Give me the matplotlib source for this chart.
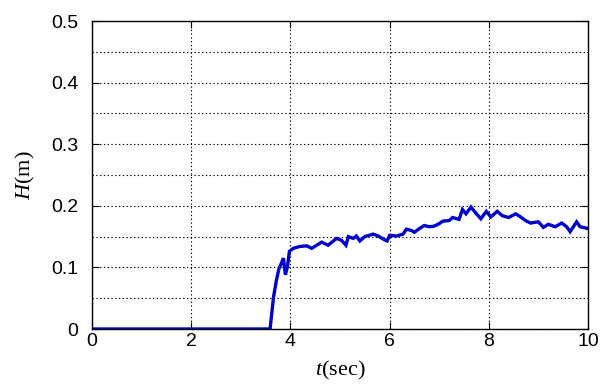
import matplotlib
matplotlib.use("Agg")
import matplotlib.pyplot as plt
import numpy as np
from matplotlib.ticker import MultipleLocator

plt.rcParams["mathtext.fontset"] = "custom"
plt.rcParams["mathtext.it"] = "Liberation Serif:italic"
plt.rcParams["mathtext.rm"] = "Liberation Serif"

# wave height record
t = [0.0, 3.59, 3.66, 3.72, 3.77, 3.82, 3.86, 3.90, 3.94, 3.98, 4.06, 4.19,
     4.33, 4.43, 4.53, 4.63, 4.76, 4.93, 5.03, 5.12, 5.17, 5.27, 5.33, 5.40,
     5.50, 5.67, 5.77, 5.87, 5.95, 6.00, 6.14, 6.27, 6.34, 6.44, 6.50, 6.60,
     6.70, 6.80, 6.90, 7.00, 7.07, 7.20, 7.27, 7.40, 7.47, 7.54, 7.64, 7.74,
     7.84, 7.95, 8.04, 8.17, 8.27, 8.40, 8.54, 8.64, 8.74, 8.84, 9.00, 9.10,
     9.20, 9.34, 9.47, 9.57, 9.64, 9.77, 9.84, 10.0]
H = [0.0, 0.0, 0.052, 0.080, 0.098, 0.107, 0.115, 0.088, 0.101, 0.126, 0.131, 0.134,
     0.135, 0.131, 0.136, 0.141, 0.136, 0.147, 0.144, 0.136, 0.150, 0.147, 0.151, 0.143,
     0.150, 0.154, 0.151, 0.146, 0.143, 0.152, 0.151, 0.154, 0.162, 0.160, 0.157, 0.163,
     0.168, 0.166, 0.167, 0.171, 0.175, 0.176, 0.181, 0.178, 0.194, 0.187, 0.198, 0.188,
     0.179, 0.191, 0.182, 0.191, 0.184, 0.181, 0.187, 0.182, 0.176, 0.172, 0.174, 0.165,
     0.170, 0.166, 0.172, 0.166, 0.158, 0.174, 0.166, 0.163]

xticks = [0, 2, 4, 6, 8, 10]
yticks = [0, 0.1, 0.2, 0.3, 0.4, 0.5]
ylabels = ["0", "0.1", "0.2", "0.3", "0.4", "0.5"]

fig = plt.figure(figsize=(6.11, 3.87), dpi=100)
ax = fig.add_axes([92 / 611, 1 - 329 / 387, (588 - 92) / 611, (329 - 21) / 387])

ax.plot(t, H, color="#0000cd", linewidth=2.4, solid_joinstyle="miter")

ax.set_xlim(0, 10)
ax.set_ylim(0, 0.5)
ax.set_xticks(xticks)
ax.set_yticks(yticks)
ax.set_yticklabels(ylabels)
ax.yaxis.set_minor_locator(MultipleLocator(0.05))

ax.grid(True, which="major", color="black", linestyle=(0, (1.2, 2.2)), linewidth=0.8)
ax.grid(True, which="minor", axis="y", color="black", linestyle=(0, (1.2, 2.2)), linewidth=0.8)
ax.tick_params(which="major", direction="in", length=5, top=True, right=True,
               labelsize=14)
ax.tick_params(axis="y", pad=10)
ax.tick_params(axis="x", pad=3)
ax.tick_params(which="minor", length=0)
for lab in ax.get_xticklabels() + ax.get_yticklabels():
    lab.set_fontfamily(["Liberation Sans Narrow", "Liberation Sans"])
for s in ax.spines.values():
    s.set_linewidth(1.0)

ax.set_xlabel("$t$(sec)", fontsize=16, labelpad=6, fontfamily="Liberation Serif")
ax.set_ylabel("$H$(m)", fontsize=16, labelpad=10, fontfamily="Liberation Serif")

fig.savefig("out.png", dpi=100)
